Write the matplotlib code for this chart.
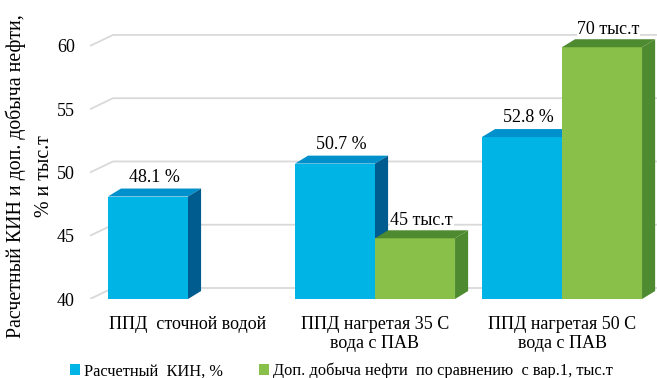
import matplotlib
matplotlib.use('Agg')
import matplotlib.pyplot as plt
from matplotlib.patches import Polygon, Patch

plt.rcParams['font.family'] = ['Liberation Serif', 'DejaVu Serif']

categories = ['ППД  сточной водой', 'ППД нагретая 35 С\nвода с ПАВ', 'ППД нагретая 50 С\nвода с ПАВ']
kin_values = [48.1, 50.7, 52.8]
extra_heights = [None, 44.8, 59.9]
extra_labels = [None, '45 тыс.т', '70 тыс.т']
series_names = ['Расчетный  КИН, %', 'Доп. добыча нефти  по сравнению  с вар.1, тыс.т']
y_ticks = [40, 45, 50, 55, 60]

blue = ('#00B4E6', '#0090CC', '#005B8F')    # front, top, side
green = ('#88C04A', '#4E8A2F', '#4E8A2F')

bar_w = 0.428
dx, dy = 0.07, 0.63          # depth of the bars
gx, gy = 0.123, 0.87         # depth of the back wall
x_left, x_right = -0.524, 2.508
y_base, y_top = 40, 62.05


def box(ax, x0, h, cols):
    x1 = x0 + bar_w
    ax.bar(x0, h - y_base, bottom=y_base, width=bar_w, align='edge',
           color=cols[0], linewidth=0, zorder=3)
    ax.add_patch(Polygon([(x0, h), (x0 + dx, h + dy), (x1 + dx, h + dy), (x1, h)],
                         closed=True, facecolor=cols[1], linewidth=0, zorder=3))
    ax.add_patch(Polygon([(x1, y_base), (x1 + dx, y_base + dy), (x1 + dx, h + dy), (x1, h)],
                         closed=True, facecolor=cols[2], linewidth=0, zorder=3))


fig = plt.figure(figsize=(6.57, 3.78), dpi=100)
ax = fig.add_axes([90 / 657, 79 / 378, 567 / 657, 279 / 378])

# back wall grid with the short floor diagonal on the left
for t in y_ticks:
    ax.plot([x_left, x_left + gx, x_right], [t, t + gy, t + gy],
            color='#D9D9D9', lw=1.3, zorder=1, solid_capstyle='butt')

for i, cat in enumerate(categories):
    box(ax, i - bar_w, kin_values[i], blue)
    ax.annotate(f'{kin_values[i]} %', (i - bar_w / 2 + dx / 2, kin_values[i] + dy),
                xytext=(0, 2), textcoords='offset points', ha='center', va='bottom',
                fontsize=13, zorder=5)
    if extra_heights[i] is not None:
        box(ax, i, extra_heights[i], green)
        ax.annotate(extra_labels[i], (i + bar_w / 2 + dx / 2, extra_heights[i] + dy),
                    xytext=(0, 1), textcoords='offset points', ha='center', va='bottom',
                    fontsize=13, zorder=5,
                    bbox=dict(facecolor='white', edgecolor='none', pad=0.5))

ax.set_xlim(x_left, x_right)
ax.set_ylim(y_base, y_top)
ax.set_yticks(y_ticks)
ax.set_yticklabels([str(t) for t in y_ticks], fontsize=13)
ax.set_xticks(range(len(categories)))
ax.set_xticklabels(categories, fontsize=13, linespacing=1.2)
ax.tick_params(axis='both', length=0)
ax.tick_params(axis='y', pad=11)
ax.tick_params(axis='x', pad=12)
for s in ax.spines.values():
    s.set_visible(False)

fig.text(0.024, 0.535, 'Расчетный КИН и доп. добыча нефти,', rotation=90,
         ha='center', va='center', fontsize=14.3)
fig.text(0.067, 0.535, '% и тыс.т', rotation=90, ha='center', va='center', fontsize=14.3)

handles = [Patch(facecolor=blue[0]), Patch(facecolor=green[0])]
fig.legend(handles, series_names, loc='center', bbox_to_anchor=(0.52, 0.018),
           ncol=2, frameon=False, fontsize=11.8, handlelength=0.6, handleheight=0.6,
           handletextpad=0.25, columnspacing=2.2, borderpad=0)

fig.savefig('out.png', dpi=100)
